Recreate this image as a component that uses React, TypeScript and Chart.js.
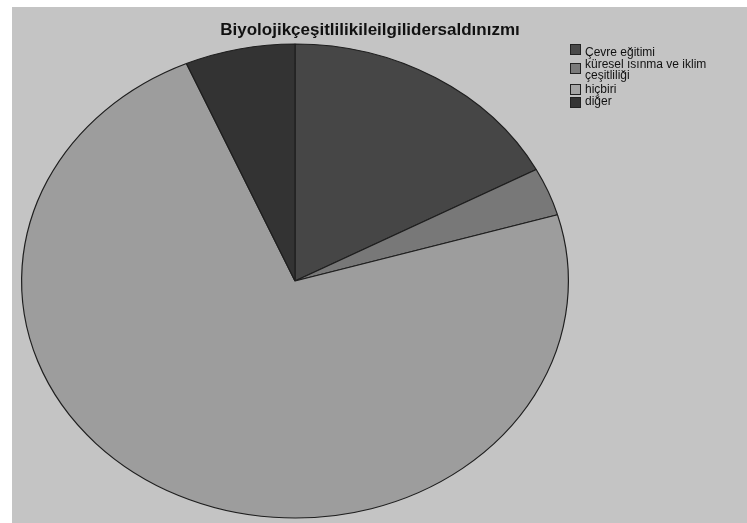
import React, { useEffect, useRef } from "react";
import { Chart, registerables } from "chart.js";

Chart.register(...registerables);

const TITLE = "Biyolojikçeşitlilikileilgilidersaldınızmı";
const categories = ["Çevre eğitimi", "küresel ısınma ve iklim çeşitliliği", "hiçbiri", "diğer"];
const legendLines = [["Çevre eğitimi"], ["küresel ısınma ve iklim", "çeşitliliği"], ["hiçbiri"], ["diğer"]];
const values = [17.2, 3.3, 73.0, 6.5];
const sliceColors = ["#464646", "#787878", "#9d9d9d", "#333333"];
const legendColors = ["#4a4a4a", "#7a7a7a", "#a6a6a6", "#353535"];

const K = 0.867;

const ellipsePlugin = {
  id: "ellipse",
  beforeDatasetsDraw(chart: any) {
    const ctx = chart.ctx;
    const a = chart.getDatasetMeta(0).data[0];
    if (!a) return;
    ctx.save();
    ctx.translate(a.x, a.y);
    ctx.scale(1, K);
    ctx.translate(-a.x, -a.y);
  },
  afterDatasetsDraw(chart: any) {
    chart.ctx.restore();
  },
};

const FONT = "'Liberation Sans', Arial, sans-serif";

export default function App() {
  const ref = useRef<HTMLCanvasElement>(null);
  useEffect(() => {
    if (!ref.current) return;
    const chart = new Chart(ref.current, {
      type: "pie",
      data: {
        labels: categories,
        datasets: [
          {
            data: values,
            backgroundColor: sliceColors,
            borderColor: "#1e1e1e",
            borderWidth: 1.2,
          },
        ],
      },
      options: {
        responsive: false,
        animation: false,
        layout: { padding: { left: 21, top: 7, right: 178, bottom: 45 } },
        plugins: {
          legend: { display: false },
          tooltip: { enabled: false },
          title: { display: false },
        },
      },
      plugins: [ellipsePlugin],
    });
    return () => chart.destroy();
  }, []);

  const boxTops = [44, 63, 84, 97];
  const textTops = [46.5, 58.5, 83.5, 95.7];
  return (
    <div style={{ position: "absolute", left: 0, top: 0, width: 747, height: 523, overflow: "hidden", background: "#ffffff" }}>
      <div style={{ position: "absolute", left: 12, top: 7, width: 735, height: 516, background: "#c4c4c4" }} />
      <canvas ref={ref} width={747} height={600} style={{ position: "absolute", left: 0, top: 0, display: "block" }} />
      <div
        style={{
          position: "absolute",
          left: 120,
          width: 500,
          top: 20,
          textAlign: "center",
          fontFamily: FONT,
          fontWeight: "bold",
          fontSize: 17,
          lineHeight: "20px",
          color: "#111",
        }}
      >
        {TITLE}
      </div>
      {legendLines.map((lines, i) => (
        <React.Fragment key={i}>
          <div
            style={{
              position: "absolute",
              left: 570,
              top: boxTops[i],
              width: 9,
              height: 9,
              background: legendColors[i],
              border: "1px solid #222",
            }}
          />
          <div
            style={{
              position: "absolute",
              left: 585,
              top: textTops[i],
              fontFamily: FONT,
              fontSize: 12,
              lineHeight: "11px",
              color: "#111",
              whiteSpace: "nowrap",
            }}
          >
            {lines.map((l, j) => (
              <div key={j}>{l}</div>
            ))}
          </div>
        </React.Fragment>
      ))}
    </div>
  );
}
